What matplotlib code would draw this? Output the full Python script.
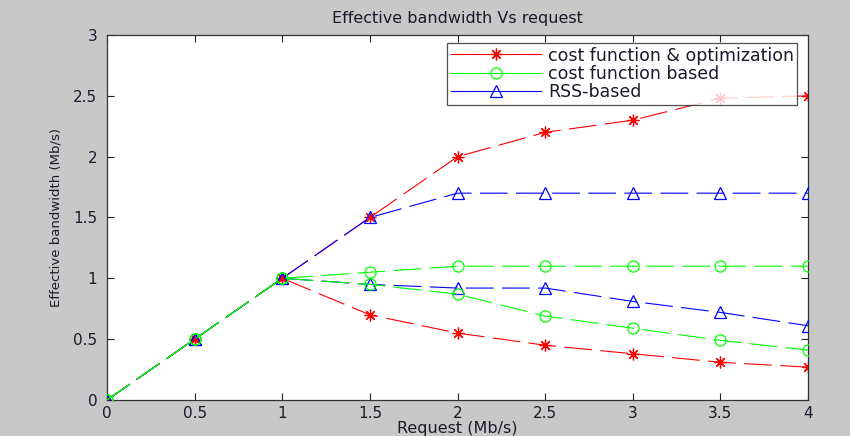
import matplotlib
matplotlib.use("Agg")
import matplotlib.pyplot as plt

plt.rcParams['font.family'] = ['DejaVu Sans']
plt.rcParams['lines.scale_dashes'] = False

x = [0, 0.5, 1, 1.5, 2, 2.5, 3, 3.5, 4]
cost_opt_hi = [0, 0.5, 1, 1.5, 2.0, 2.2, 2.3, 2.48, 2.5]
cost_opt_lo = [0, 0.5, 1, 0.7, 0.55, 0.45, 0.38, 0.31, 0.27]
cost_hi = [0, 0.5, 1, 1.05, 1.1, 1.1, 1.1, 1.1, 1.1]
cost_lo = [0, 0.5, 1, 0.95, 0.87, 0.69, 0.59, 0.49, 0.41]
rss_hi = [0, 0.5, 1, 1.5, 1.7, 1.7, 1.7, 1.7, 1.7]
rss_lo = [0, 0.5, 1, 0.95, 0.92, 0.92, 0.81, 0.72, 0.61]

labels = ['cost function & optimization', 'cost function based', 'RSS-based']
xticks = [0, 0.5, 1, 1.5, 2, 2.5, 3, 3.5, 4]
xticklabels = ['0', '0.5', '1', '1.5', '2', '2.5', '3', '3.5', '4']
yticks = [0, 0.5, 1, 1.5, 2, 2.5, 3]
yticklabels = ['0', '0.5', '1', '1.5', '2', '2.5', '3']

fig = plt.figure(figsize=(8.5, 4.36), dpi=100, facecolor='#c8c8c8')
ax = fig.add_axes([0.1259, 0.0826, 0.8247, 0.8371])
ax.set_facecolor('white')

dash = (0, (20, 6))
kw = dict(linestyle=dash, linewidth=0.8, markerfacecolor='none', markeredgewidth=0.9)
star = (8, 2, 0)
red, green, blue = '#ff0000', '#00ff00', '#0000ff'
l1, = ax.plot(x, cost_opt_hi, color=red, marker=star, markersize=8.5, zorder=2, **kw)
ax.plot(x, cost_opt_lo, color=red, marker=star, markersize=8.5, zorder=2, **kw)
l3, = ax.plot(x, rss_hi, color=blue, marker='^', markersize=9, zorder=3, **kw)
ax.plot(x, rss_lo, color=blue, marker='^', markersize=9, zorder=3, **kw)
l2, = ax.plot(x, cost_hi, color=green, marker='o', markersize=8, zorder=4, **kw)
ax.plot(x, cost_lo, color=green, marker='o', markersize=8, zorder=4, **kw)

ax.set_xlim(0, 4)
ax.set_ylim(0, 3)
ax.set_xticks(xticks)
ax.set_xticklabels(xticklabels)
ax.set_yticks(yticks)
ax.set_yticklabels(yticklabels)
ax.tick_params(direction='in', length=5, width=0.8, labelsize=11, top=True, right=True,
               labeltop=False, labelright=False, colors='#222222', labelcolor='#1a1a2a')
ax.tick_params(axis='x', pad=4)
ax.tick_params(axis='y', pad=7)
for s in ax.spines.values():
    s.set_color('#333333')
    s.set_linewidth(0.9)

ax.set_title('Effective bandwidth Vs request', fontsize=11.5, pad=9, color='#1a1a2a')
ax.set_xlabel('Request (Mb/s)', fontsize=11.5, labelpad=0, color='#1a1a2a')
ax.set_ylabel('Effective bandwidth (Mb/s)', fontsize=9.5, labelpad=8, color='#1a1a2a')

leg = ax.legend([l1, l2, l3], labels, loc='upper right', fontsize=12.5,
                frameon=True, fancybox=False, bbox_to_anchor=(0.985, 0.978),
                borderaxespad=0.0, handlelength=5.2, handletextpad=0.4,
                labelspacing=0.02, borderpad=0.2)
leg.get_frame().set_edgecolor('#222222')
leg.get_frame().set_linewidth(0.9)
for t in leg.get_texts():
    t.set_color('#1a1a2a')
for h in leg.get_lines():
    h.set_linestyle('-')

fig.savefig('out.png', dpi=100, facecolor=fig.get_facecolor())
